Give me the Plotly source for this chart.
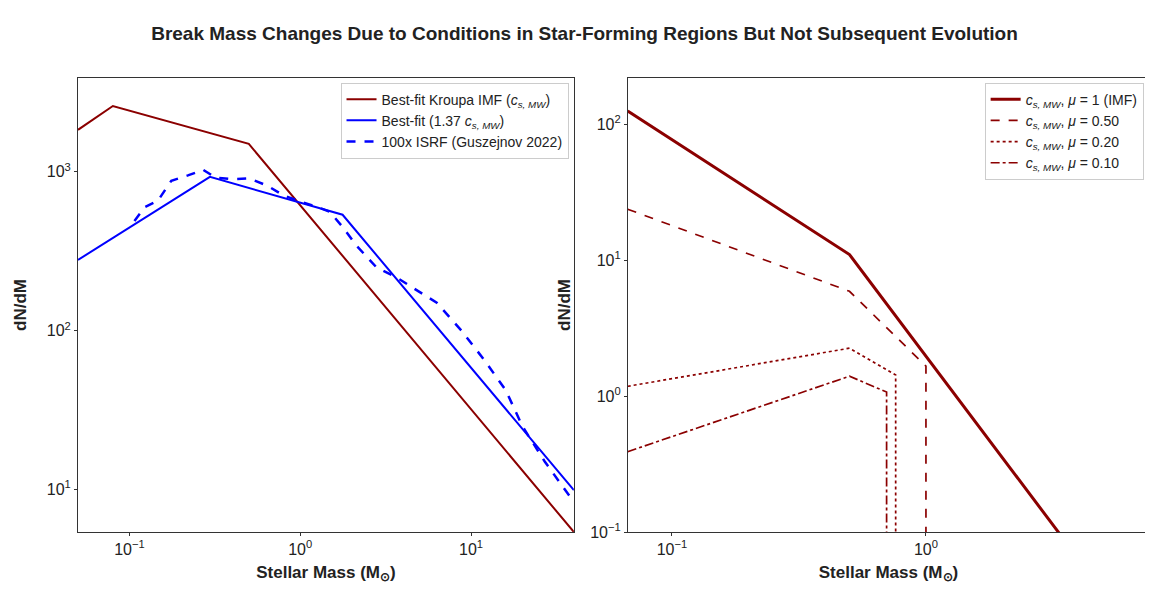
import plotly.graph_objects as go
import numpy as np

# left panel
kroupa_m = [0.05, 0.08, 0.5, 40]
kroupa_n = [1840, 2600, 1500, 5.4]
best_m = [0.05, 0.296, 1.77, 40]
best_n = [279, 930, 537, 9.9]
isrf_m = [0.107, 0.123, 0.147, 0.176, 0.22, 0.27, 0.32, 0.40, 0.50, 0.64, 0.80, 1.0, 1.27,
          1.49, 1.77, 2.15, 2.8, 3.7, 4.8, 6.3, 8.8, 12, 16, 20, 27, 38]
isrf_n = [490, 600, 660, 880, 950, 1030, 920, 900, 910, 820, 710, 650, 600,
          560, 450, 340, 250, 215, 180, 150, 100, 65, 42, 25, 15, 9]

# right panel
mu1_m = [0.067, 0.5, 7.5]
mu1_n = [125, 11, 0.0132]
mu05_m = [0.067, 0.5, 1.0, 1.0]
mu05_n = [23.7, 5.9, 1.66, 0.01]
mu02_m = [0.067, 0.5, 0.76, 0.76]
mu02_n = [1.18, 2.25, 1.43, 0.01]
mu01_m = [0.067, 0.5, 0.70, 0.70]
mu01_n = [0.39, 1.4, 1.07, 0.01]

RED = "#8b0000"
BLUE = "#0000ff"
CS = "<i>c</i><sub><i>s, MW</i></sub>"

fig = go.Figure()
fig.add_trace(go.Scatter(x=kroupa_m, y=kroupa_n, mode="lines", line=dict(color=RED, width=2),
                         name=f"Best-fit Kroupa IMF ({CS})", legend="legend"))
fig.add_trace(go.Scatter(x=best_m, y=best_n, mode="lines", line=dict(color=BLUE, width=2),
                         name=f"Best-fit (1.37 {CS})", legend="legend"))
fig.add_trace(go.Scatter(x=isrf_m, y=isrf_n, mode="lines", line=dict(color=BLUE, width=2.5, dash="dash"),
                         name="100x ISRF (Guszejnov 2022)", legend="legend"))

fig.add_trace(go.Scatter(x=mu1_m, y=mu1_n, mode="lines", line=dict(color=RED, width=3),
                         name=f"{CS}, <i>μ</i> = 1 (IMF)", xaxis="x2", yaxis="y2", legend="legend2"))
fig.add_trace(go.Scatter(x=mu05_m, y=mu05_n, mode="lines", line=dict(color=RED, width=1.7, dash="dash"),
                         name=f"{CS}, <i>μ</i> = 0.50", xaxis="x2", yaxis="y2", legend="legend2"))
fig.add_trace(go.Scatter(x=mu02_m, y=mu02_n, mode="lines", line=dict(color=RED, width=1.7, dash="dot"),
                         name=f"{CS}, <i>μ</i> = 0.20", xaxis="x2", yaxis="y2", legend="legend2"))
fig.add_trace(go.Scatter(x=mu01_m, y=mu01_n, mode="lines", line=dict(color=RED, width=1.7, dash="dashdot"),
                         name=f"{CS}, <i>μ</i> = 0.10", xaxis="x2", yaxis="y2", legend="legend2"))

def sup(e):
    return f"10<sup>{e}</sup>"

axis_style = dict(type="log", showgrid=False, showline=True, mirror=True, linecolor="#333",
                  linewidth=1, ticks="outside", ticklen=3, tickcolor="#333", automargin=False,
                  tickfont=dict(size=16, color="#222"), zeroline=False)
xtitle = dict(text="<b>Stellar Mass (M<sub>⊙</sub>)</b>", font=dict(size=17, color="#222"), standoff=8)
ytitle = dict(text="<b>dN/dM</b>", font=dict(size=17, color="#222"))

fig.update_layout(
    width=1153, height=598,
    paper_bgcolor="white", plot_bgcolor="white",
    font=dict(family="Liberation Sans, Arial, sans-serif"),
    margin=dict(l=70, r=12, t=70, b=74, autoexpand=False),
    title=dict(text="<b>Break Mass Changes Due to Conditions in Star-Forming Regions But Not Subsequent Evolution</b>",
               x=0.5, xanchor="center", y=0.968, font=dict(size=19, color="#222")),
    xaxis=dict(axis_style, domain=[0, 0.463], range=[np.log10(0.05), np.log10(40)],
               tickvals=[0.1, 1, 10], ticktext=[sup("−1"), sup(0), sup(1)], title=xtitle),
    yaxis=dict(axis_style, domain=[0, 1], range=[np.log10(5.4), np.log10(3900)],
               tickvals=[10, 100, 1000], ticktext=[sup(1), sup(2), sup(3)], title=ytitle),
    xaxis2=dict(axis_style, domain=[0.5135, 1], range=[-1.173, 0.878], anchor="y2",
                tickvals=[0.1, 1], ticktext=[sup("−1"), sup(0)], title=xtitle),
    yaxis2=dict(axis_style, domain=[0, 1], range=[-1, 2.34], anchor="x2",
                tickvals=[0.1, 1, 10, 100], ticktext=[sup("−1"), sup(0), sup(1), sup(2)], title=ytitle),
    legend=dict(x=0.458, y=0.99, xanchor="right", yanchor="top", bordercolor="#ccc", borderwidth=1,
                font=dict(size=14, color="#222"), bgcolor="white"),
    legend2=dict(x=0.995, y=0.99, xanchor="right", yanchor="top", bordercolor="#ccc", borderwidth=1,
                 font=dict(size=14, color="#222"), bgcolor="white"),
)

fig.write_html("out.html")
